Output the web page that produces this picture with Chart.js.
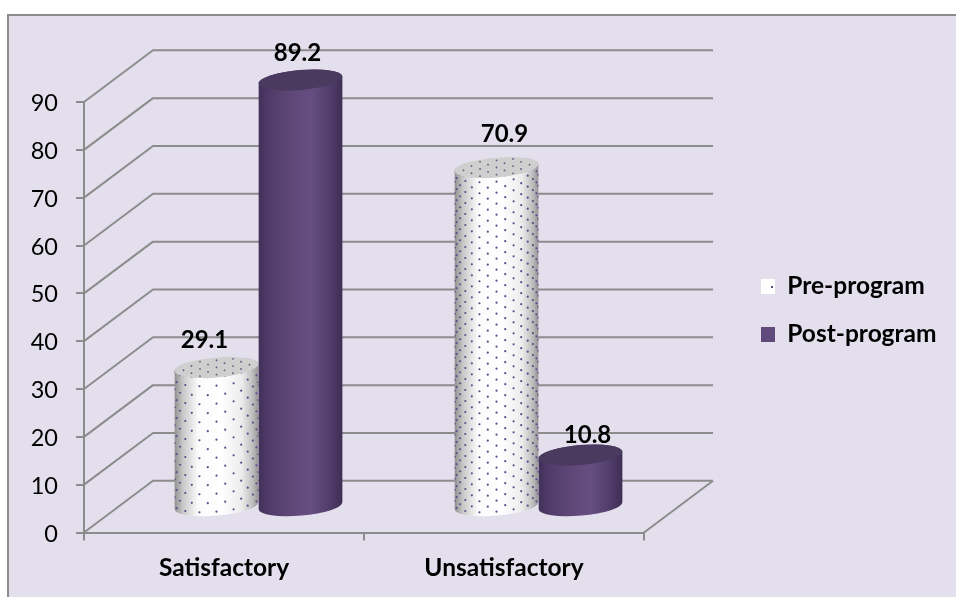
<!DOCTYPE html>
<html lang="en">
<head>
    <meta charset="UTF-8">
    <title>Satisfaction</title>
    <script src="https://cdn.jsdelivr.net/npm/chart.js@4/dist/chart.umd.min.js"></script>
    <style>
        html, body {
            margin: 0;
            background: white;
        }
        .Chart-Container {
            position: relative;
            width: 956px;
            height: 597px;
            overflow: hidden;
        }
        .Panel {
            position: absolute;
            left: 7px;
            top: 14px;
            right: -5px;
            bottom: -5px;
            background: #e4dfec;
            border: 2px solid #8c8c8c;
        }
    </style>
</head>
<body>
    <div class="Chart-Container">
        <div class="Panel"></div>
        <canvas id="satisfactionChart" width="956" height="597" style="position:absolute;left:0;top:0"></canvas>
    </div>
<script>
    var categories = ['Satisfactory', 'Unsatisfactory'];
    var preProgram = [29.1, 70.9];
    var postProgram = [89.2, 10.8];
    var yTicks = [0, 10, 20, 30, 40, 50, 60, 70, 80, 90];

    var fontName = 'Lato, "Open Sans", sans-serif';
    var lineColor = '#8c8c8c';
    var depthX = 69;
    var depthY = -51.7;

    function makeSwatch() {
        var c = document.createElement('canvas');
        c.width = 16;
        c.height = 16;
        var g = c.getContext('2d');
        g.fillStyle = 'white';
        g.fillRect(0, 0, 16, 16);
        g.fillStyle = '#5b4a80';
        g.fillRect(10, 6, 2, 1);
        g.fillRect(3, 14, 2, 2);
        return g.createPattern(c, 'repeat');
    }

    // gridlines on the back wall and the left wall, floor edge on the right
    var wallPlugin = {
        id: 'walls',
        beforeDatasetsDraw(chart) {
            var ctx = chart.ctx, y = chart.scales.y, x = chart.scales.x;
            ctx.save();
            ctx.strokeStyle = lineColor;
            ctx.lineWidth = 2;
            ctx.lineJoin = 'round';
            yTicks.forEach(function (t) {
                var py = y.getPixelForValue(t);
                ctx.beginPath();
                ctx.moveTo(x.left, py);
                ctx.lineTo(x.left + depthX, py + depthY);
                ctx.lineTo(713, py + depthY);
                ctx.stroke();
            });
            var py0 = y.getPixelForValue(0);
            ctx.beginPath();
            ctx.moveTo(x.right, py0);
            ctx.lineTo(x.right + depthX, py0 + depthY);
            ctx.stroke();
            ctx.restore();
        }
    };

    var tilt = -0.085;
    var capRy = 10;

    function sidePath(ctx, cx, top, bottom, rx) {
        ctx.beginPath();
        ctx.ellipse(cx, bottom, rx, capRy, tilt, 0, Math.PI);
        ctx.ellipse(cx, top, rx, capRy, tilt, Math.PI, Math.PI * 2);
        ctx.closePath();
    }

    function sideGradient(ctx, cx, rx, stops) {
        var g = ctx.createLinearGradient(cx - rx, 0, cx + rx, 0);
        stops.forEach(function (s) { g.addColorStop(s[0], s[1]); });
        return g;
    }

    function drawDotted(ctx, cx, top, bottom, rx, rowGap) {
        sidePath(ctx, cx, top, bottom, rx);
        ctx.fillStyle = sideGradient(ctx, cx, rx, [[0, '#8f8f8f'], [0.1, '#c8c8c8'], [0.28, '#fbfbfb'], [0.55, '#ffffff'], [0.8, '#ececec'], [0.93, '#bdbdbd'], [1, '#949494']]);
        ctx.fill();

        ctx.save();
        sidePath(ctx, cx, top, bottom, rx);
        ctx.clip();
        ctx.fillStyle = '#5f4c8a';
        for (var k = -7; k <= 7; k++) {
            var a = k * 12 * Math.PI / 180;
            var px = cx + rx * Math.sin(a);
            var lift = rx * Math.sin(a) * Math.tan(tilt) + capRy * Math.cos(a);
            var start = k % 2 === 0 ? 0 : rowGap / 2;
            for (var py = bottom + lift - start - 4; py > top; py -= rowGap) {
                ctx.beginPath();
                ctx.arc(px, py, 1.1, 0, Math.PI * 2);
                ctx.fill();
            }
        }
        ctx.restore();

        ctx.beginPath();
        ctx.ellipse(cx, top, rx, capRy, tilt, 0, Math.PI * 2);
        ctx.fillStyle = '#cfcfcf';
        ctx.fill();

        ctx.save();
        ctx.beginPath();
        ctx.ellipse(cx, top, rx, capRy, tilt, 0, Math.PI * 2);
        ctx.clip();
        ctx.fillStyle = '#5f5a80';
        for (var row = -3; row <= 3; row++) {
            for (var col = -4; col <= 4; col++) {
                var dx = col * 16.5 + (row % 2 === 0 ? 0 : 8);
                ctx.beginPath();
                ctx.arc(cx + dx, top + row * 3.6 + dx * Math.tan(tilt), 0.9, 0, Math.PI * 2);
                ctx.fill();
            }
        }
        ctx.restore();
    }

    function drawPurple(ctx, cx, top, bottom, rx) {
        sidePath(ctx, cx, top, bottom, rx);
        ctx.fillStyle = sideGradient(ctx, cx, rx, [[0, '#413059'], [0.12, '#4f3b69'], [0.4, '#5f4877'], [0.62, '#664e82'], [0.85, '#513d6b'], [1, '#3e2e55']]);
        ctx.fill();

        ctx.beginPath();
        ctx.ellipse(cx, top, rx, capRy, tilt, 0, Math.PI * 2);
        ctx.fillStyle = '#4b3a60';
        ctx.fill();
    }

    // bars are drawn as cylinders standing half way into the floor
    var cylinderPlugin = {
        id: 'cylinders',
        beforeDatasetsDraw(chart) {
            var ctx = chart.ctx;
            var rowGaps = [18, 11];
            ctx.save();
            categories.forEach(function (name, i) {
                chart.data.datasets.forEach(function (ds, d) {
                    var bar = chart.getDatasetMeta(d).data[i];
                    var cx = bar.x + depthX / 2;
                    var top = bar.y + depthY / 2;
                    var bottom = bar.base + depthY / 2;
                    if (d === 0) {
                        drawDotted(ctx, cx, top, bottom, bar.width / 2, rowGaps[i]);
                    } else {
                        drawPurple(ctx, cx, top, bottom, bar.width / 2);
                    }
                });
            });
            ctx.restore();
            return false;
        },
        afterDraw(chart) {
            var ctx = chart.ctx;
            // labels sit by hand next to the cap in the original
            var nudge = [[[-12, -27], [-3, -27]], [[8, -33], [7, -20]]];
            ctx.save();
            ctx.font = 'bold 24px ' + fontName;
            ctx.fillStyle = 'black';
            ctx.textAlign = 'center';
            ctx.textBaseline = 'middle';
            chart.data.datasets.forEach(function (ds, d) {
                chart.getDatasetMeta(d).data.forEach(function (bar, i) {
                    var n = nudge[i][d];
                    ctx.fillText(ds.data[i].toFixed(1), bar.x + depthX / 2 + n[0], bar.y + depthY / 2 + n[1]);
                });
            });
            ctx.restore();
        },
        afterLayout(chart) {
            var legend = chart.legend;
            legend.left = 761 - 23.5;
            legend.right = legend.left + legend.width;
            legend.top -= 39;
            legend.bottom -= 39;
        }
    };

    Chart.defaults.font.family = fontName;
    Chart.defaults.color = 'black';
    Chart.defaults.animation = false;

    var ctx = document.getElementById('satisfactionChart').getContext('2d');
    var satisfactionChart = new Chart(ctx, {
        type: 'bar',
        data: {
            labels: categories,
            datasets: [
                {
                    label: 'Pre-program',
                    data: preProgram,
                    backgroundColor: makeSwatch(),
                    borderWidth: 0
                },
                {
                    label: 'Post-program',
                    data: postProgram,
                    backgroundColor: '#604a7b',
                    borderWidth: 0
                }
            ]
        },
        options: {
            responsive: false,
            maintainAspectRatio: false,
            layout: {
                padding: { top: 102, right: 103, left: 0, bottom: 0 }
            },
            datasets: {
                bar: {
                    categoryPercentage: 0.6,
                    barPercentage: 1
                }
            },
            scales: {
                x: {
                    afterFit(scale) { scale.height = 64.5; },
                    grid: { drawOnChartArea: false, color: lineColor, lineWidth: 2, tickLength: 8 },
                    border: { color: lineColor, width: 2 },
                    ticks: { padding: 13, font: { size: 24.5, weight: 'bold' }, maxRotation: 0 }
                },
                y: {
                    min: 0,
                    max: 90,
                    afterFit(scale) { scale.width = 84; },
                    afterBuildTicks(scale) { scale.ticks = yTicks.map(function (v) { return { value: v }; }); },
                    grid: { drawOnChartArea: false, color: lineColor, lineWidth: 2, tickLength: 8 },
                    border: { color: lineColor, width: 2 },
                    ticks: { padding: 18, labelOffset: 1.5, font: { size: 23.5 } }
                }
            },
            plugins: {
                legend: {
                    position: 'right',
                    labels: {
                        boxWidth: 14,
                        boxHeight: 15,
                        padding: 23.5,
                        font: { size: 24.5, weight: 'bold' }
                    }
                },
                tooltip: { enabled: false }
            }
        },
        plugins: [wallPlugin, cylinderPlugin]
    });
</script>
</body>
</html>
